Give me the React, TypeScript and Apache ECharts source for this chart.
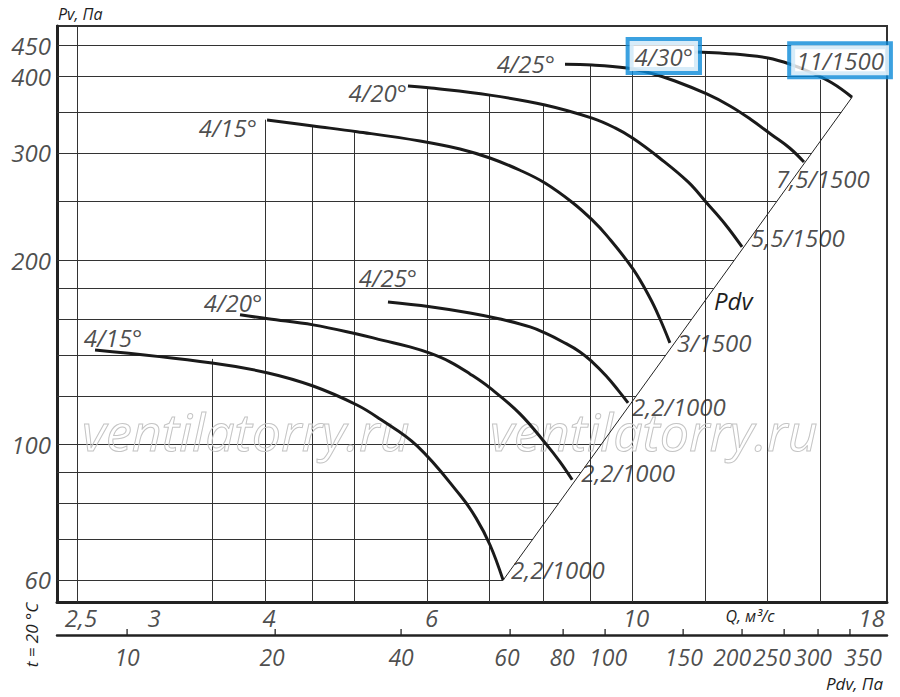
import React, { useEffect, useRef } from "react";
import * as echarts from "echarts";

// axis ranges (Q in m3/s, Pv in Pa)
const Q_MIN = 2.378;
const Q_MAX = 18.9;
const P_MIN = 55.2;
const P_MAX = 484;

// tick labels
const qTicks = [2.5, 3, 4, 6, 10, 18];
const qTickText = ["2,5", "3", "4", "6", "10", "18"];
const pTicks = [450, 400, 300, 200, 100, 60];
const pTickText = ["450", "400", "300", "200", "100", "60"];
const pdvTickText = ["10", "20", "40", "60", "80", "100", "150", "200", "250", "300", "350"];
// Q value under which each Pdv tick mark sits on the lower scale
const pdvTickQ = [2.833, 4.101, 5.616, 7.374, 8.418, 9.348, 11.36, 13.16, 14.62, 15.91, 17.23];
// Q value under which each Pdv label is centred
const pdvLabelQ = [2.833, 4.069, 5.616, 7.317, 8.395, 9.417, 11.38, 12.84, 14.18, 15.71, 17.8];

// grid lines (partial, as in the original drawing)
const vGridQ = [2.5, 3.5, 4, 4.5, 5, 6, 7, 8, 9, 10, 12, 14, 16];
const vGridTop = [484, 138, 340, 331, 325, 383, 374, 360, 417, 411, 437, 429, 395];
const hGridP = [450, 400, 350, 300, 250, 200, 180, 160, 140, 120, 100, 90, 80, 70, 60];
const hGridEnd = [18.9, 16.1, 16.86, 15.66, 14.35, 12.9, 12.26, 11.59, 10.88, 10.1, 9.26, 8.8, 8.32, 7.81, 7.25];

// Pdv line
const pdvLine = [[7.25, 60], [17.32, 370]];

// fan curves [Q, Pv]
const low15 = [[2.615, 142.7], [3.503, 135.9], [4.028, 130.9], [4.508, 124.6], [5.03, 116.0], [5.328, 110.0], [5.845, 99.4], [6.506, 82.6], [6.77, 75.8], [7.011, 68.5], [7.244, 60.0]];
const low20 = [[3.756, 163], [4.028, 160.5], [4.508, 156.9], [5.03, 151.6], [5.368, 148], [5.741, 144.4], [6.036, 141], [6.345, 136.5], [6.67, 130.4], [7.011, 123.7], [7.558, 112.2], [8.08, 99.8], [8.352, 93.6], [8.61, 87.5]];
const low25 = [[5.435, 171], [6.036, 168], [6.67, 164.1], [7.19, 160.4], [7.751, 155.7], [8.044, 152.2], [8.414, 147.1], [8.78, 141.7], [9.05, 136.5], [9.369, 129.5], [9.655, 122.7], [9.9, 116.9]];
const up15 = [[4.018, 339.6], [4.508, 332], [5.03, 325], [5.888, 313.8], [6.506, 304.5], [7.011, 294.3], [7.558, 281], [8.044, 267.8], [8.628, 248.4], [9.05, 233], [9.393, 219.4], [10.02, 193.7], [10.457, 173.6], [10.71, 161.0], [10.99, 146.6]];
const up20 = [[5.713, 386], [6.051, 383], [7.011, 373], [8.044, 359.4], [9.05, 342], [9.583, 329.6], [10.02, 317], [10.71, 294.3], [11.5, 268.9], [12.05, 248.4], [12.61, 229.5], [13.16, 210.5]];
const up25 = [[8.457, 419], [9.05, 417.9], [9.87, 413], [10.457, 405.4], [11.13, 393.4], [12.05, 374.6], [12.77, 358.1], [13.43, 340.9], [14.18, 321], [14.82, 305.6], [15.36, 289.9]];
const up30 = [[11.7, 438.8], [12.45, 437], [13.26, 433.9], [14.04, 429], [14.82, 419.4], [15.59, 406.9], [16.48, 390.4], [17.32, 370]];

const angleText = ["4/15°", "4/20°", "4/25°", "4/15°", "4/20°", "4/25°", "4/30°"];
const motorText = ["2,2/1000", "2,2/1000", "2,2/1000", "3/1500", "5,5/1500", "7,5/1500", "11/1500"];

const FONT = '"Open Sans", "Noto Sans", "DejaVu Sans", sans-serif';
const INK = "#1e1e1e";
const BLUE = "#0a8ad8";

export default function App() {
  const ref = useRef<HTMLDivElement>(null);

  useEffect(() => {
    if (!ref.current) return;
    const chart = echarts.init(ref.current, undefined, { renderer: "svg" });

    const txt = (size: number, lh = 26) => ({
      fontFamily: FONT,
      fontStyle: "italic" as const,
      fontSize: size,
      color: INK,
      lineHeight: lh,
    });

    const curves = [low15, low20, low25, up15, up20, up25, up30];

    // label placement per curve: [position, distance, offset]
    const startPos: any[] = [
      ["top", 0, [18, 0]],
      ["top", 0, [-7, 1]],
      ["top", 12, [0, 0]],
      ["left", 10, [0, 7]],
      ["left", 1, [0, 6]],
      ["left", 10, [0, -1]],
      ["left", 0, [3, 4]],
    ];
    const endPos: any[] = [
      ["right", 8, [0, -10]],
      ["right", 9, [0, -7]],
      ["right", 4, [0, 4]],
      ["right", 7, [0, 0]],
      ["right", 9, [0, -9]],
      ["right", 0, [-28, 17]],
      ["top", 22, [-12, 0]],
    ];
    const boxStyle = {
      borderColor: BLUE,
      borderWidth: 4,
      padding: [2, 5, 2, 5],
      backgroundColor: "#ffffff",
    };

    const lab = (pt: number[], text: string, p: any[], extra: any = {}) => ({
      type: "scatter",
      xAxisIndex: 0,
      yAxisIndex: 0,
      data: [pt],
      symbolSize: 0,
      silent: true,
      clip: false,
      z: 8,
      label: {
        show: true,
        formatter: text,
        position: p[0],
        distance: p[1],
        offset: p[2],
        ...txt(24),
        ...extra,
      },
    });

    const series: any[] = [];

    series.push({
      type: "lines",
      coordinateSystem: "cartesian2d",
      xAxisIndex: 0,
      yAxisIndex: 0,
      silent: true,
      z: 1,
      lineStyle: { color: "#333", width: 1, opacity: 1, curveness: 0 },
      data: vGridQ.map((q, i) => ({ coords: [[q, vGridTop[i]], [q, P_MIN]] })),
    });
    series.push({
      type: "lines",
      coordinateSystem: "cartesian2d",
      xAxisIndex: 0,
      yAxisIndex: 0,
      silent: true,
      z: 1,
      lineStyle: { color: "#333", width: 1, opacity: 1, curveness: 0 },
      data: hGridP.map((p, i) => ({ coords: [[Q_MIN, p], [hGridEnd[i], p]] })),
    });
    series.push({
      type: "line",
      xAxisIndex: 0,
      yAxisIndex: 0,
      data: pdvLine,
      symbol: "none",
      silent: true,
      z: 4,
      lineStyle: { color: "#222", width: 1 },
    });

    curves.forEach((c, i) => {
      series.push({
        type: "line",
        xAxisIndex: 0,
        yAxisIndex: 0,
        data: c,
        smooth: 0.4,
        symbol: "none",
        silent: true,
        z: 5,
        lineStyle: { color: "#1a1a1a", width: 3 },
      });
      const boxed = i === 6;
      series.push(lab(c[0], angleText[i], startPos[i], boxed ? boxStyle : {}));
      series.push(lab(c[c.length - 1], motorText[i], endPos[i], boxed ? boxStyle : {}));
    });

    // Q tick labels
    series.push({
      type: "scatter",
      xAxisIndex: 0,
      yAxisIndex: 0,
      data: qTicks.map((q) => [q, P_MIN]),
      symbolSize: 0,
      silent: true,
      clip: false,
      label: {
        show: true,
        position: "bottom",
        distance: 2,
        offset: [4, 0],
        formatter: (p: any) => qTickText[p.dataIndex],
        ...txt(24),
      },
    });
    // Pv tick labels
    series.push({
      type: "scatter",
      xAxisIndex: 0,
      yAxisIndex: 0,
      data: pTicks.map((p) => [Q_MIN, p]),
      symbolSize: 0,
      silent: true,
      clip: false,
      label: {
        show: true,
        position: "left",
        distance: 6,
        formatter: (p: any) => pTickText[p.dataIndex],
        ...txt(24),
      },
    });
    // Pdv scale tick marks
    series.push({
      type: "scatter",
      xAxisIndex: 1,
      yAxisIndex: 1,
      data: pdvTickQ.map((q) => [q, 0]),
      symbol: "rect",
      symbolSize: [1.6, 6],
      symbolOffset: [0, -3],
      itemStyle: { color: "#222" },
      silent: true,
      clip: false,
    });
    // Pdv scale labels
    series.push({
      type: "scatter",
      xAxisIndex: 1,
      yAxisIndex: 1,
      data: pdvLabelQ.map((q) => [q, 0]),
      symbolSize: 0,
      silent: true,
      clip: false,
      label: {
        show: true,
        position: "bottom",
        distance: 11,
        formatter: (p: any) => pdvTickText[p.dataIndex],
        ...txt(23, 22),
      },
    });

    const gtext = (text: string, x: number, y: number, size: number, align: string, extra: any = {}) => ({
      type: "text",
      x,
      y,
      z: 10,
      silent: true,
      style: {
        text,
        fontFamily: FONT,
        fontStyle: "italic",
        fontSize: size,
        fill: INK,
        align,
        verticalAlign: "middle",
        ...extra,
      },
    });

    const option: any = {
      animation: false,
      backgroundColor: "#ffffff",
      grid: [
        {
          left: 57,
          right: 13,
          top: 26,
          bottom: 95,
          show: true,
          borderColor: "#333",
          borderWidth: 2,
          backgroundColor: "transparent",
        },
        { left: 57, right: 13, top: 625, height: 10 },
      ],
      xAxis: [
        {
          type: "log",
          gridIndex: 0,
          min: Q_MIN,
          max: Q_MAX,
          axisLine: { show: true, onZero: false, lineStyle: { color: "#222", width: 3 } },
          axisTick: { show: false },
          axisLabel: { show: false },
          splitLine: { show: false },
        },
        {
          type: "log",
          gridIndex: 1,
          min: Q_MIN,
          max: Q_MAX,
          axisLine: { show: true, onZero: false, lineStyle: { color: "#222", width: 2.5 } },
          axisTick: { show: false },
          axisLabel: { show: false },
          splitLine: { show: false },
        },
      ],
      yAxis: [
        {
          type: "log",
          gridIndex: 0,
          min: P_MIN,
          max: P_MAX,
          axisLine: { show: true, onZero: false, lineStyle: { color: "#222", width: 3 } },
          axisTick: { show: false },
          axisLabel: { show: false },
          splitLine: { show: false },
        },
        { type: "value", gridIndex: 1, min: 0, max: 1, show: false },
      ],
      series,
      graphic: [
        gtext("Pv, Па", 58, 14, 16, "left"),
        gtext("Q, м³/с", 750, 616, 16, "center"),
        gtext("Pdv, Па", 883, 683, 17, "right"),
        gtext("Pdv", 714, 300, 24, "left"),
        { ...gtext("t = 20 °C", 31, 635, 17, "center"), rotation: Math.PI / 2 },
        {
          ...gtext("ventilatorry.ru", 82, 430, 52, "left", { fill: "rgba(255,255,255,0)", stroke: "#c4c4c4", lineWidth: 1 }),
          z: 3,
        },
        {
          ...gtext("ventilatorry.ru", 490, 430, 52, "left", { fill: "rgba(255,255,255,0)", stroke: "#c4c4c4", lineWidth: 1 }),
          z: 3,
        },
      ],
    };

    chart.setOption(option);
    return () => chart.dispose();
  }, []);

  return (
    <div
      ref={ref}
      style={{ position: "fixed", left: 0, top: 0, width: 900, height: 697, background: "#fff" }}
    />
  );
}
